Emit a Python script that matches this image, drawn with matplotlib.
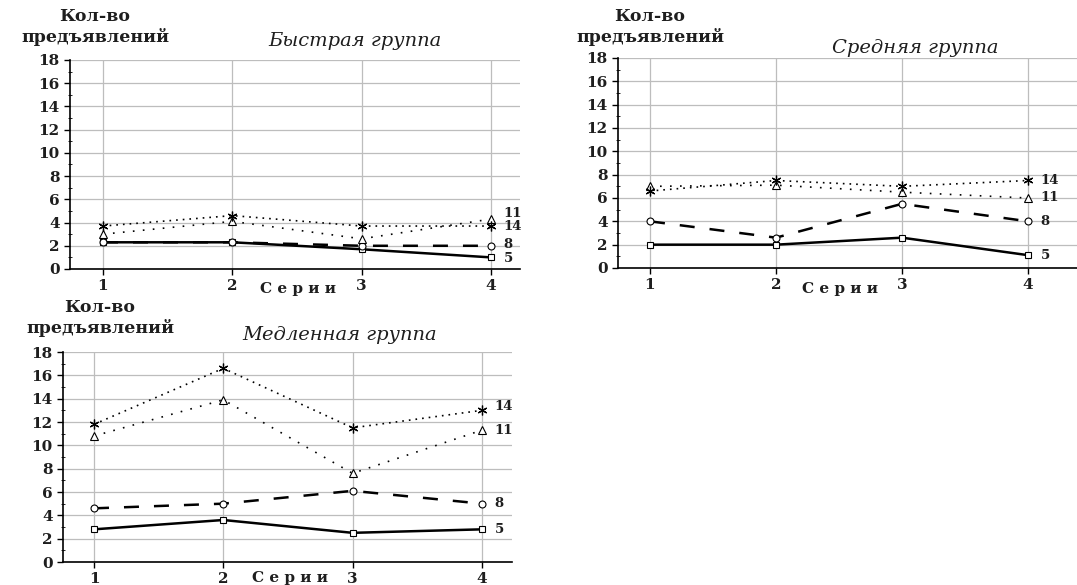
import matplotlib
matplotlib.use('Agg')
import matplotlib.pyplot as plt
from matplotlib.ticker import MultipleLocator

plt.rcParams['font.family'] = ['DejaVu Serif']
plt.rcParams['font.size'] = 11

series = [1, 2, 3, 4]
yticks = [0, 2, 4, 6, 8, 10, 12, 14, 16, 18]

# быстрая группа
fast_5 = [2.3, 2.3, 1.7, 1.0]
fast_8 = [2.3, 2.3, 2.0, 2.0]
fast_11 = [3.0, 4.1, 2.6, 4.3]
fast_14 = [3.7, 4.6, 3.7, 3.7]

# средняя группа
mid_5 = [2.0, 2.0, 2.6, 1.1]
mid_8 = [4.0, 2.6, 5.5, 4.0]
mid_11 = [7.0, 7.1, 6.5, 6.0]
mid_14 = [6.6, 7.5, 7.0, 7.5]

# медленная группа
slow_5 = [2.8, 3.6, 2.5, 2.8]
slow_8 = [4.6, 5.0, 6.1, 5.0]
slow_11 = [10.8, 13.9, 7.6, 11.3]
slow_14 = [11.8, 16.6, 11.5, 13.0]

W, H = 1077, 585
fig = plt.figure(figsize=(W / 100, H / 100), dpi=100)
ink = '#1e1e1e'


def panel(px_left, px_right, px_top, px_bottom, x1px, step, title, title_xy,
          ylab_xy, xlab_xy, d5, d8, d11, d14, lbl_off):
    ax = fig.add_axes([px_left / W, 1 - px_bottom / H,
                       (px_right - px_left) / W, (px_bottom - px_top) / H])
    ax.set_xlim(1 - (x1px - px_left) / step, 1 + (px_right - x1px) / step)
    ax.set_ylim(0, 18)
    ax.plot(series, d5, color='black', lw=1.8, marker='s', ms=4,
            mfc='white', mec='black', mew=0.8)
    ax.plot(series, d8, color='black', lw=1.8, ls=(0, (6, 6)), marker='o',
            ms=5, mfc='white', mec='black', mew=0.8)
    ax.plot(series, d11, color='black', lw=1.2, ls=(0, (1, 5)), marker='^',
            ms=6, mfc='white', mec='black', mew=0.8)
    ax.plot(series, d14, color='black', lw=1.2, ls=(0, (1, 3)), marker=(6, 2, 0),
            ms=7, mec='black', mew=0.9)
    for vals, lab, dy in zip([d5, d8, d11, d14], ['5', '8', '11', '14'], lbl_off):
        ax.text(4 + 0.1, vals[-1] + dy, lab, fontsize=9.5, fontweight='bold',
                va='center', ha='left', color=ink)
    ax.set_xticks(series)
    ax.set_yticks(yticks)
    ax.yaxis.set_minor_locator(MultipleLocator(1))
    ax.grid(True, color='#bdbdbd', lw=0.9)
    ax.set_axisbelow(True)
    for s in ['top', 'right']:
        ax.spines[s].set_visible(False)
    ax.spines['left'].set_linewidth(1.2)
    ax.spines['bottom'].set_linewidth(1.2)
    ax.tick_params(axis='both', labelsize=11, length=4, width=1,
                   labelcolor=ink)
    ax.tick_params(axis='y', which='minor', length=3, direction='inout')
    for t in ax.get_xticklabels() + ax.get_yticklabels():
        t.set_fontweight('bold')
    fig.text(title_xy[0] / W, 1 - title_xy[1] / H, title, fontsize=14,
             style='italic', ha='center', va='center', color=ink)
    fig.text(ylab_xy[0] / W, 1 - ylab_xy[1] / H, 'Кол-во\nпредъявлений',
             fontsize=12.5, fontweight='bold', ha='center', va='center',
             linespacing=1.25, color=ink)
    fig.text(xlab_xy[0] / W, 1 - xlab_xy[1] / H, 'С е р и и', fontsize=11,
             fontweight='bold', ha='center', va='center', color=ink)
    return ax


panel(70, 520, 60, 269, 103, 129.3, 'Быстрая группа', (355, 41), (95, 27),
      (298, 289), fast_5, fast_8, fast_11, fast_14, [-0.1, 0.15, 0.5, 0.0])
panel(618, 1077, 58, 268, 650, 126.0, 'Средняя группа', (915, 48), (650, 27),
      (840, 289), mid_5, mid_8, mid_11, mid_14, [0, 0, 0, 0])
panel(63, 512, 352, 562, 94, 129.3, 'Медленная группа', (340, 335), (100, 318),
      (290, 578), slow_5, slow_8, slow_11, slow_14, [0, 0, 0, 0.3])

fig.savefig('out.png', dpi=100, facecolor='white')
